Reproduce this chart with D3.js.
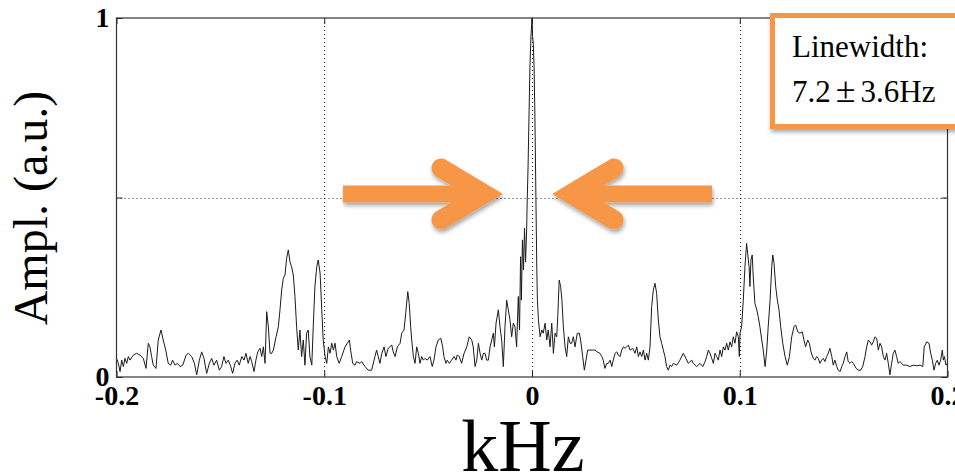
<!DOCTYPE html>
<html>
<head>
<meta charset="utf-8">
<script src="https://cdn.jsdelivr.net/npm/d3@7/dist/d3.min.js"></script>
<style>
  html, body { margin: 0; padding: 0; background: #fff; overflow: hidden; }
  svg { display: block; }
</style>
</head>
<body>
<svg id="chart" width="955" height="476"></svg>
<script>
// Beat-note spectrum around the carrier (frequency offset in kHz, normalised amplitude)
const freq = [
-0.2000,-0.1991,-0.1983,-0.1975,-0.1967,-0.1959,-0.1951,-0.1943,-0.1935,-0.1919,-0.1903,-0.1887,-0.1871,-0.1858,-0.1847,-0.1839,-0.1831,-0.1823,-0.1810,-0.1799,
-0.1786,-0.1775,-0.1763,-0.1751,-0.1739,-0.1730,-0.1718,-0.1707,-0.1694,-0.1681,-0.1665,-0.1654,-0.1638,-0.1625,-0.1614,-0.1601,-0.1590,-0.1579,-0.1566,-0.1553,
-0.1542,-0.1531,-0.1518,-0.1505,-0.1494,-0.1483,-0.1473,-0.1462,-0.1450,-0.1441,-0.1430,-0.1419,-0.1409,-0.1397,-0.1386,-0.1377,-0.1366,-0.1357,-0.1349,-0.1338,
-0.1329,-0.1320,-0.1309,-0.1301,-0.1293,-0.1285,-0.1277,-0.1269,-0.1261,-0.1253,-0.1245,-0.1232,-0.1221,-0.1213,-0.1205,-0.1197,-0.1189,-0.1181,-0.1173,-0.1165,
-0.1157,-0.1149,-0.1141,-0.1133,-0.1125,-0.1117,-0.1109,-0.1101,-0.1093,-0.1085,-0.1077,-0.1069,-0.1060,-0.1053,-0.1045,-0.1036,-0.1029,-0.1020,-0.1012,-0.1005,
-0.0996,-0.0988,-0.0980,-0.0972,-0.0964,-0.0956,-0.0948,-0.0940,-0.0928,-0.0916,-0.0900,-0.0889,-0.0879,-0.0873,-0.0863,-0.0852,-0.0844,-0.0828,-0.0820,-0.0804,
-0.0788,-0.0772,-0.0756,-0.0748,-0.0740,-0.0732,-0.0723,-0.0712,-0.0703,-0.0692,-0.0675,-0.0668,-0.0659,-0.0648,-0.0635,-0.0627,-0.0616,-0.0608,-0.0598,-0.0591,
-0.0584,-0.0579,-0.0571,-0.0563,-0.0555,-0.0547,-0.0539,-0.0531,-0.0523,-0.0515,-0.0504,-0.0491,-0.0480,-0.0472,-0.0462,-0.0451,-0.0439,-0.0430,-0.0424,-0.0414,
-0.0408,-0.0398,-0.0387,-0.0375,-0.0366,-0.0360,-0.0350,-0.0339,-0.0327,-0.0314,-0.0302,-0.0290,-0.0283,-0.0274,-0.0266,-0.0258,-0.0250,-0.0242,-0.0234,-0.0226,
-0.0218,-0.0210,-0.0202,-0.0194,-0.0186,-0.0181,-0.0173,-0.0162,-0.0154,-0.0146,-0.0138,-0.0130,-0.0122,-0.0114,-0.0106,-0.0098,-0.0090,-0.0082,-0.0074,-0.0066,
-0.0060,-0.0055,-0.0051,-0.0046,-0.0041,-0.0036,-0.0031,-0.0026,-0.0023,-0.0019,-0.0013,-0.0010,-0.0005,0.0000,0.0003,0.0006,0.0010,0.0014,0.0019,0.0023,
0.0026,0.0031,0.0039,0.0047,0.0054,0.0063,0.0071,0.0078,0.0087,0.0095,0.0103,0.0111,0.0119,0.0124,0.0131,0.0138,0.0144,0.0151,0.0159,0.0167,
0.0175,0.0183,0.0191,0.0199,0.0207,0.0218,0.0228,0.0234,0.0244,0.0252,0.0260,0.0268,0.0279,0.0292,0.0303,0.0314,0.0327,0.0336,0.0343,0.0351,
0.0360,0.0367,0.0376,0.0384,0.0391,0.0400,0.0408,0.0415,0.0424,0.0432,0.0440,0.0448,0.0456,0.0464,0.0472,0.0485,0.0496,0.0504,0.0512,0.0520,
0.0528,0.0536,0.0544,0.0552,0.0560,0.0568,0.0576,0.0584,0.0592,0.0600,0.0608,0.0616,0.0624,0.0632,0.0640,0.0648,0.0656,0.0664,0.0672,0.0680,
0.0697,0.0712,0.0728,0.0741,0.0752,0.0769,0.0776,0.0793,0.0809,0.0822,0.0833,0.0841,0.0849,0.0857,0.0865,0.0873,0.0881,0.0889,0.0897,0.0905,
0.0913,0.0921,0.0929,0.0937,0.0945,0.0953,0.0961,0.0969,0.0977,0.0985,0.0993,0.0998,0.1001,0.1009,0.1017,0.1025,0.1033,0.1038,0.1045,0.1049,
0.1054,0.1060,0.1065,0.1073,0.1082,0.1089,0.1097,0.1106,0.1113,0.1122,0.1130,0.1137,0.1146,0.1154,0.1159,0.1165,0.1173,0.1181,0.1189,0.1197,
0.1207,0.1218,0.1229,0.1239,0.1250,0.1261,0.1269,0.1279,0.1290,0.1301,0.1309,0.1317,0.1327,0.1335,0.1343,0.1354,0.1362,0.1370,0.1378,0.1386,
0.1394,0.1402,0.1410,0.1418,0.1426,0.1434,0.1443,0.1450,0.1458,0.1467,0.1474,0.1483,0.1491,0.1498,0.1507,0.1515,0.1522,0.1531,0.1539,0.1547,
0.1560,0.1571,0.1582,0.1592,0.1603,0.1611,0.1619,0.1627,0.1635,0.1643,0.1651,0.1659,0.1667,0.1675,0.1683,0.1691,0.1699,0.1707,0.1715,0.1723,
0.1731,0.1739,0.1747,0.1755,0.1763,0.1771,0.1780,0.1787,0.1804,0.1819,0.1835,0.1852,0.1868,0.1881,0.1888,0.1900,0.1911,0.1919,0.1927,0.1935,
0.1943,0.1951,0.1959,0.1967,0.1975,0.1980,0.1985,0.1993,0.1999
];
const ampl = [
0.052,0.038,0.015,0.047,0.029,0.052,0.038,0.057,0.047,0.061,0.066,0.061,0.052,0.024,0.094,0.084,0.057,0.033,0.024,0.103,
0.131,0.103,0.075,0.038,0.033,0.047,0.033,0.038,0.029,0.033,0.061,0.066,0.057,0.038,0.006,0.047,0.070,0.052,0.010,0.038,
0.052,0.033,0.047,0.019,0.029,0.057,0.038,0.047,0.029,0.010,0.038,0.047,0.033,0.057,0.047,0.066,0.038,0.057,0.043,0.015,
0.047,0.070,0.080,0.057,0.084,0.038,0.182,0.140,0.066,0.066,0.075,0.112,0.140,0.187,0.242,0.275,0.284,0.331,0.354,0.321,
0.307,0.284,0.224,0.140,0.075,0.131,0.057,0.103,0.033,0.122,0.131,0.057,0.033,0.140,0.252,0.307,0.326,0.289,0.187,0.103,
0.057,0.038,0.084,0.066,0.094,0.075,0.094,0.057,0.038,0.057,0.084,0.094,0.103,0.075,0.038,0.033,0.043,0.038,0.043,0.029,
0.019,0.019,0.057,0.075,0.057,0.038,0.066,0.084,0.057,0.080,0.089,0.070,0.057,0.084,0.094,0.122,0.131,0.177,0.238,0.205,
0.140,0.103,0.057,0.038,0.084,0.066,0.038,0.057,0.047,0.052,0.047,0.057,0.029,0.047,0.084,0.103,0.108,0.084,0.057,0.038,
0.047,0.038,0.047,0.057,0.047,0.061,0.057,0.038,0.066,0.084,0.112,0.103,0.084,0.029,0.047,0.094,0.066,0.047,0.066,0.066,
0.047,0.047,0.084,0.103,0.122,0.084,0.150,0.187,0.140,0.103,0.029,0.140,0.214,0.187,0.159,0.112,0.150,0.140,0.084,0.224,
0.131,0.335,0.214,0.382,0.298,0.415,0.320,0.404,0.493,0.585,0.772,0.864,0.947,1.000,0.948,0.930,0.864,0.724,0.493,0.306,
0.214,0.159,0.112,0.131,0.122,0.150,0.103,0.131,0.084,0.150,0.066,0.122,0.112,0.168,0.270,0.252,0.214,0.140,0.084,0.057,
0.112,0.094,0.094,0.112,0.084,0.122,0.122,0.103,0.057,0.019,0.047,0.075,0.075,0.075,0.075,0.070,0.066,0.057,0.047,0.024,
0.038,0.038,0.047,0.029,0.047,0.066,0.070,0.061,0.057,0.075,0.084,0.080,0.084,0.089,0.075,0.080,0.066,0.084,0.057,0.070,
0.057,0.075,0.047,0.066,0.047,0.084,0.196,0.242,0.261,0.233,0.159,0.112,0.094,0.075,0.057,0.029,0.019,0.033,0.029,0.038,
0.033,0.047,0.066,0.052,0.038,0.047,0.038,0.029,0.038,0.029,0.043,0.057,0.075,0.066,0.052,0.038,0.066,0.057,0.047,0.075,
0.057,0.084,0.075,0.094,0.075,0.098,0.084,0.112,0.094,0.126,0.112,0.057,0.122,0.140,0.214,0.307,0.372,0.345,0.307,0.252,
0.326,0.340,0.279,0.205,0.187,0.168,0.140,0.103,0.075,0.029,0.075,0.140,0.214,0.307,0.340,0.317,0.252,0.214,0.187,0.140,
0.094,0.057,0.033,0.057,0.112,0.140,0.145,0.126,0.122,0.126,0.103,0.084,0.103,0.094,0.070,0.052,0.047,0.057,0.052,0.038,
0.047,0.052,0.043,0.057,0.066,0.080,0.057,0.033,0.047,0.029,0.019,0.015,0.029,0.038,0.057,0.070,0.043,0.038,0.043,0.038,
0.024,0.019,0.019,0.029,0.057,0.084,0.103,0.098,0.089,0.098,0.112,0.108,0.075,0.094,0.084,0.057,0.047,0.066,0.038,0.006,
0.038,0.066,0.075,0.057,0.038,0.043,0.038,0.033,0.033,0.029,0.033,0.031,0.033,0.029,0.084,0.098,0.094,0.066,0.047,0.019,
0.038,0.047,0.033,0.047,0.075,0.047,0.057,0.033,0.038
];

// Axis ticks and their labels
const xTicks = [-0.2, -0.1, 0, 0.1, 0.2];
const xTickLabels = ["-0.2", "-0.1", "0", "0.1", "0.2"];
const yTicks = [0, 0.5, 1];
const yTickLabels = ["0", "", "1"];
const xGrid = [-0.1, 0, 0.1];
const yGrid = [0.5];

const xTitle = "kHz";
const yTitle = "Ampl. (a.u.)";
const noteLines = ["Linewidth:", "7.2", "±", "3.6Hz"];

const svg = d3.select("#chart");
const W = 955, H = 476;
const plot = { left: 116.5, right: 947.5, top: 18, bottom: 377 };

const x = d3.scaleLinear().domain([-0.2, 0.2]).range([plot.left, plot.right]);
const y = d3.scaleLinear().domain([0, 1]).range([plot.bottom, plot.top]);

const serif = "'Liberation Serif', 'Times New Roman', 'DejaVu Serif', serif";
const orange = "#F79646";

// soft drop shadow for the annotation shapes
const defs = svg.append("defs");
const shadow = defs.append("filter").attr("id", "shadow")
  .attr("x", "-20%").attr("y", "-20%").attr("width", "140%").attr("height", "160%");
shadow.append("feDropShadow")
  .attr("dx", 1).attr("dy", 3).attr("stdDeviation", 2.2)
  .attr("flood-color", "#000").attr("flood-opacity", 0.35);

svg.append("rect").attr("width", W).attr("height", H).attr("fill", "#fff");

// dotted grid
const grid = svg.append("g").attr("stroke", "#222").attr("stroke-width", 1)
  .attr("stroke-dasharray", "1,3");
grid.selectAll("line.gx").data(xGrid).join("line").attr("class", "gx")
  .attr("x1", d => Math.round(x(d)) + 0.5).attr("x2", d => Math.round(x(d)) + 0.5)
  .attr("y1", plot.top).attr("y2", plot.bottom);
grid.selectAll("line.gy").data(yGrid).join("line").attr("class", "gy")
  .attr("x1", plot.left).attr("x2", plot.right)
  .attr("y1", d => Math.round(y(d)) + 0.5).attr("y2", d => Math.round(y(d)) + 0.5);

// spectrum trace
const pts = freq.map((f, i) => [f, ampl[i]]);
svg.append("path").datum(pts)
  .attr("fill", "none").attr("stroke", "#1b1b1b").attr("stroke-width", 1)
  .attr("stroke-linejoin", "round")
  .attr("d", d3.line().x(d => x(d[0])).y(d => y(d[1])));

// axes with inward ticks
const tickFont = g => g.selectAll("text")
  .attr("font-family", serif).attr("font-weight", "bold")
  .attr("font-size", 28).attr("fill", "#000");

const xAxis = svg.append("g").attr("transform", `translate(0,${plot.bottom})`)
  .call(d3.axisBottom(x).tickValues(xTicks).tickSize(-6).tickPadding(8)
    .tickFormat((d, i) => xTickLabels[i]));
xAxis.call(tickFont);
const xAxisTop = svg.append("g").attr("transform", `translate(0,${plot.top})`)
  .call(d3.axisTop(x).tickValues(xTicks).tickSize(-6).tickFormat(""));
const yAxis = svg.append("g").attr("transform", `translate(${plot.left},0)`)
  .call(d3.axisLeft(y).tickValues(yTicks).tickSize(-6).tickPadding(7)
    .tickFormat((d, i) => yTickLabels[i]));
yAxis.call(tickFont);
const yAxisRight = svg.append("g").attr("transform", `translate(${plot.right},0)`)
  .call(d3.axisRight(y).tickValues(yTicks).tickSize(-6).tickFormat(""));
[xAxis, xAxisTop, yAxis, yAxisRight].forEach(g => {
  g.select(".domain").remove();
  g.selectAll("line").attr("stroke", "#222");
});

// plot frame
svg.append("rect")
  .attr("x", plot.left).attr("y", plot.top)
  .attr("width", plot.right - plot.left).attr("height", plot.bottom - plot.top)
  .attr("fill", "none").attr("stroke", "#333").attr("stroke-width", 1.2);

// axis titles
svg.append("text").text(xTitle)
  .attr("x", 523).attr("y", 471).attr("text-anchor", "middle")
  .attr("font-family", serif).attr("font-size", 74).attr("fill", "#000");
svg.append("text").text(yTitle)
  .attr("transform", "translate(47,208) rotate(-90)")
  .attr("text-anchor", "middle")
  .attr("font-family", serif).attr("font-size", 48).attr("fill", "#000");

// converging arrows marking the central line
const arrowY = 194;
function arrow(dir, shaftStart, vertex) {
  const g = svg.append("g").attr("filter", "url(#shadow)");
  g.append("line")
    .attr("x1", shaftStart).attr("x2", vertex)
    .attr("y1", arrowY).attr("y2", arrowY)
    .attr("stroke", orange).attr("stroke-width", 17);
  const ax = vertex - dir * 42.9, ay = 25.75;
  g.append("polyline")
    .attr("points", `${ax},${arrowY - ay} ${vertex},${arrowY} ${ax},${arrowY + ay}`)
    .attr("fill", "none").attr("stroke", orange).attr("stroke-width", 19.5)
    .attr("stroke-linecap", "round").attr("stroke-linejoin", "miter")
    .attr("stroke-miterlimit", 4);
}
arrow(1, 343, 484);
arrow(-1, 712, 571);

// linewidth note box
const box = svg.append("g");
box.append("rect")
  .attr("x", 772.5).attr("y", 15.5).attr("width", 260).attr("height", 111)
  .attr("fill", "#fff").attr("stroke", orange).attr("stroke-width", 5)
  .attr("filter", "url(#shadow)");
box.append("text").text(noteLines[0])
  .attr("x", 792).attr("y", 57)
  .attr("font-family", serif).attr("font-size", 31).attr("fill", "#000");
const t2 = box.append("text").attr("x", 792).attr("y", 102)
  .attr("font-family", serif).attr("font-size", 31).attr("fill", "#000");
t2.append("tspan").text(noteLines[1]);
t2.append("tspan").attr("dx", 5).attr("font-size", 36).text(noteLines[2]);
t2.append("tspan").attr("dx", 5).text(noteLines[3]);
</script>
</body>
</html>
